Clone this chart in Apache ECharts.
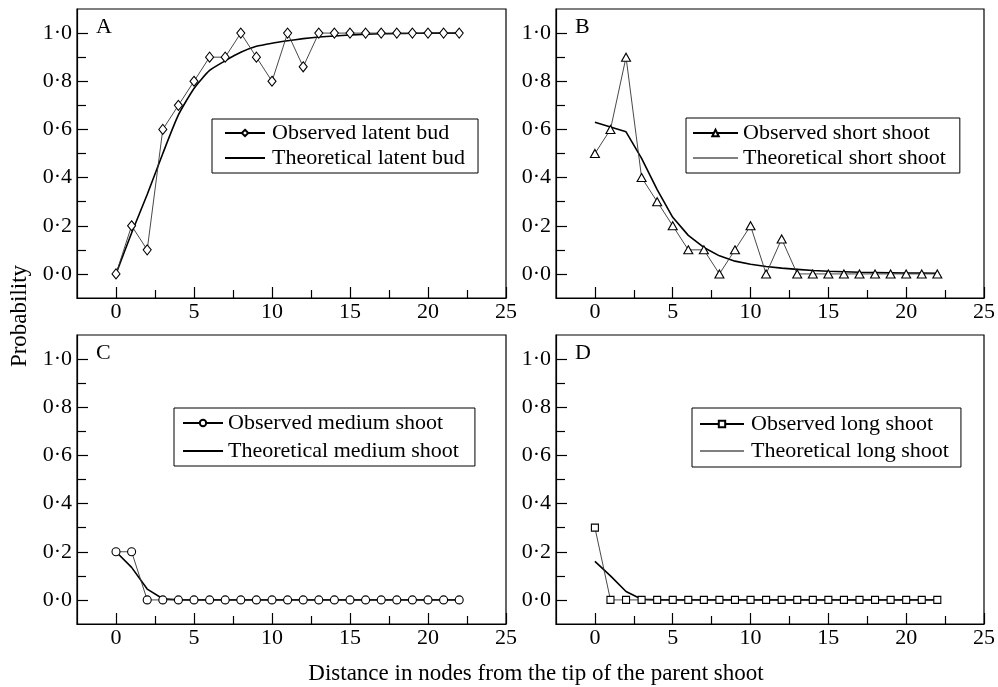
<!DOCTYPE html>
<html lang="en">
<head>
<meta charset="UTF-8">
<title>Probability vs distance from the shoot tip</title>
<script src="https://cdn.jsdelivr.net/npm/echarts@6/dist/echarts.min.js"></script>
<style>
    html, body, #chart {
        width: 998px;
        height: 687px;
        margin: 0;
        padding: 0;
        background: #fff;
    }
</style>
</head>
<body>
<div id="chart"></div>
<script>
    // distance in nodes
    var nodes = [0, 1, 2, 3, 4, 5, 6, 7, 8, 9, 10, 11, 12, 13, 14, 15, 16, 17, 18, 19, 20, 21, 22];

    var obsLatent = [0, 0.2, 0.1, 0.6, 0.7, 0.8, 0.9, 0.9, 1.0, 0.9, 0.8, 1.0, 0.86, 1, 1, 1, 1, 1, 1, 1, 1, 1, 1];
    var theoLatent = [0, 0.17, 0.33, 0.5, 0.66, 0.77, 0.845, 0.885, 0.92, 0.945, 0.958, 0.968, 0.977, 0.984, 0.988, 0.992, 0.995, 0.997, 0.998, 0.999, 1, 1, 1];

    var obsShort = [0.5, 0.6, 0.9, 0.4, 0.3, 0.2, 0.1, 0.1, 0, 0.1, 0.2, 0, 0.145, 0, 0, 0, 0, 0, 0, 0, 0, 0, 0];
    var theoShort = [0.63, 0.61, 0.59, 0.48, 0.35, 0.235, 0.16, 0.11, 0.075, 0.053, 0.04, 0.031, 0.024, 0.019, 0.014, 0.011, 0.009, 0.007, 0.006, 0.005, 0.004, 0.004, 0.003];

    var obsMedium = [0.2, 0.2, 0, 0, 0, 0, 0, 0, 0, 0, 0, 0, 0, 0, 0, 0, 0, 0, 0, 0, 0, 0, 0];
    var theoMedium = [0.2, 0.135, 0.045, 0.005, 0, 0, 0, 0, 0, 0, 0, 0, 0, 0, 0, 0, 0, 0, 0, 0, 0, 0, 0];

    var obsLong = [0.3, 0, 0, 0, 0, 0, 0, 0, 0, 0, 0, 0, 0, 0, 0, 0, 0, 0, 0, 0, 0, 0, 0];
    var theoLong = [0.16, 0.1, 0.035, 0.003, 0, 0, 0, 0, 0, 0, 0, 0, 0, 0, 0, 0, 0, 0, 0, 0, 0, 0, 0];

    var xMajor = [0, 5, 10, 15, 20, 25];
    var xMinor = [2.5, 7.5, 12.5, 17.5, 22.5];
    var yMajor = [0, 0.2, 0.4, 0.6, 0.8, 1.0];
    var yMinor = [0.1, 0.3, 0.5, 0.7, 0.9];

    var panels = [
        {letter: "A", obsName: "Observed latent bud", theoName: "Theoretical latent bud", obs: obsLatent, theo: theoLatent, symbol: "diamond", symbolSize: [8, 10], smooth: 0.2},
        {letter: "B", obsName: "Observed short shoot", theoName: "Theoretical short shoot", obs: obsShort, theo: theoShort, symbol: "triangle", symbolSize: [9, 8], smooth: false},
        {letter: "C", obsName: "Observed medium shoot", theoName: "Theoretical medium shoot", obs: obsMedium, theo: theoMedium, symbol: "circle", symbolSize: 8, smooth: false},
        {letter: "D", obsName: "Observed long shoot", theoName: "Theoretical long shoot", obs: obsLong, theo: theoLong, symbol: "rect", symbolSize: 7, smooth: false}
    ];

    var FONT = "Liberation Serif";

    var grids = [
        {left: 77, top: 9, width: 429, height: 289},
        {left: 556, top: 9, width: 430, height: 289},
        {left: 77, top: 335, width: 429, height: 289},
        {left: 556, top: 335, width: 430, height: 289}
    ];
    grids.forEach(function (g) {
        g.show = true;
        g.borderColor = "#000";
        g.borderWidth = 1.2;
        g.backgroundColor = "transparent";
    });

    var legendPos = [
        {left: 212, top: 119, padding: [3, 13, 4, 12], itemWidth: 40, gap: 3, textPad: 2},
        {left: 686, top: 118, padding: [4, 14, 4, 6], itemWidth: 45, gap: 3, textPad: 0},
        {left: 174, top: 408, padding: [4, 16, 4, 8], itemWidth: 40, gap: 6, textPad: 0},
        {left: 692, top: 408, padding: [5, 12, 5, 7], itemWidth: 44, gap: 5, textPad: 2}
    ];

    var xAxes = [], yAxes = [], series = [], legends = [], graphics = [];

    panels.forEach(function (p, i) {
        xAxes.push({
            type: "value", gridIndex: i, min: -2.5, max: 25,
            axisLine: {show: true, onZero: false, lineStyle: {color: "#000", width: 1.2}},
            axisTick: {show: true, inside: true, length: 11, customValues: xMajor, lineStyle: {color: "#000", width: 1.2}},
            axisLabel: {show: true, customValues: xMajor, margin: 3, color: "#000", fontFamily: FONT, fontSize: 22},
            splitLine: {show: false}
        });
        xAxes.push({
            type: "value", gridIndex: i, min: -2.5, max: 25, position: "bottom",
            axisLine: {show: false, onZero: false},
            axisTick: {show: true, inside: true, length: 8, customValues: xMinor, lineStyle: {color: "#000", width: 1.2}},
            axisLabel: {show: false},
            splitLine: {show: false}
        });
        yAxes.push({
            type: "value", gridIndex: i, min: -0.1, max: 1.1,
            axisLine: {show: true, onZero: false, lineStyle: {color: "#000", width: 1.2}},
            axisTick: {show: true, inside: true, length: 11, customValues: yMajor, lineStyle: {color: "#000", width: 1.2}},
            axisLabel: {
                show: true, customValues: yMajor, margin: 5, color: "#000", fontFamily: FONT, fontSize: 22,
                formatter: function (v) { return v.toFixed(1).replace(".", "\u00b7"); }
            },
            splitLine: {show: false}
        });
        yAxes.push({
            type: "value", gridIndex: i, min: -0.1, max: 1.1, position: "left",
            axisLine: {show: false, onZero: false},
            axisTick: {show: true, inside: true, length: 9, customValues: yMinor, lineStyle: {color: "#000", width: 1.2}},
            axisLabel: {show: false},
            splitLine: {show: false}
        });

        series.push({
            name: p.theoName, type: "line", xAxisIndex: 2 * i, yAxisIndex: 2 * i,
            data: nodes.map(function (x, k) { return [x, p.theo[k]]; }),
            symbol: "none", smooth: p.smooth,
            lineStyle: {color: "#000", width: 1.6},
            itemStyle: {color: "#000"},
            z: 2
        });
        series.push({
            name: p.obsName, type: "line", xAxisIndex: 2 * i, yAxisIndex: 2 * i,
            data: nodes.map(function (x, k) { return [x, p.obs[k]]; }),
            symbol: p.symbol, symbolSize: p.symbolSize, showAllSymbol: true,
            lineStyle: {color: "#333", width: 0.9},
            itemStyle: {color: "#fff", borderColor: "#000", borderWidth: 1.1},
            z: 3
        });

        var lp = legendPos[i];
        legends.push({
            orient: "vertical", left: lp.left, top: lp.top, padding: lp.padding,
            itemWidth: lp.itemWidth, itemHeight: 8, itemGap: lp.gap,
            borderColor: "#000", borderWidth: 1, backgroundColor: "#fff",
            selectedMode: false,
            textStyle: {color: "#000", fontFamily: FONT, fontSize: 22, lineHeight: 22, padding: [0, 0, 0, lp.textPad]},
            data: [
                {name: p.obsName, lineStyle: {width: 2, color: "#000"}},
                {name: p.theoName, itemStyle: {opacity: 0}, lineStyle: {width: (i === 1 || i === 3) ? 1 : 2, color: "#000", opacity: 1}}
            ]
        });

        graphics.push({
            type: "text", left: grids[i].left + 19, top: grids[i].top + 7,
            style: {text: p.letter, font: "22px " + FONT, fill: "#000"}
        });
    });

    graphics.push({
        type: "text", x: 20, y: 316, rotation: Math.PI / 2,
        style: {text: "Probability", font: "23px " + FONT, fill: "#000", textAlign: "center", textVerticalAlign: "middle"}
    });
    graphics.push({
        type: "text", x: 536, y: 674,
        style: {text: "Distance in nodes from the tip of the parent shoot", font: "23px " + FONT, fill: "#000", textAlign: "center", textVerticalAlign: "middle"}
    });

    var chart = echarts.init(document.getElementById("chart"));
    chart.setOption({
        animation: false,
        backgroundColor: "#fff",
        grid: grids,
        xAxis: xAxes,
        yAxis: yAxes,
        legend: legends,
        graphic: graphics,
        series: series
    });
</script>
</body>
</html>
